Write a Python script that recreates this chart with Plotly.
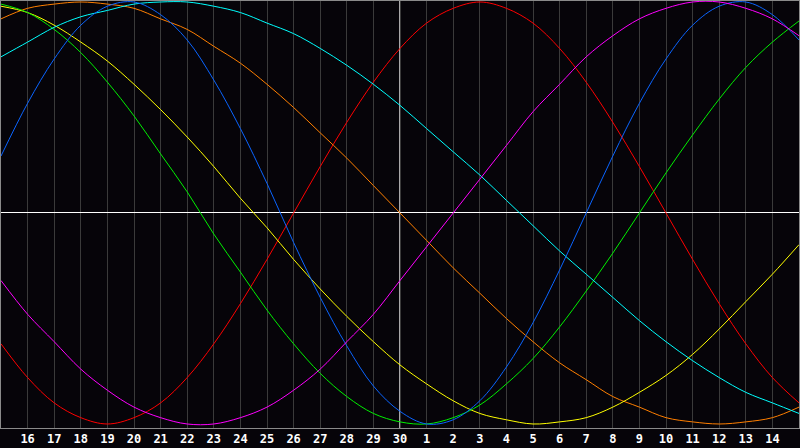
#!/usr/bin/env python

import plotly.graph_objects as go


# day labels from the 15th to the 15th of the next month (edges are off-label)
days = ['15', '16', '17', '18', '19', '20', '21', '22', '23', '24', '25', '26', '27', '28', '29', '30',
	'1', '2', '3', '4', '5', '6', '7', '8', '9', '10', '11', '12', '13', '14', '15']

# cycle values at each day
red = [-0.62, -0.78, -0.90, -0.97, -1.00, -0.97, -0.90, -0.78, -0.62, -0.43, -0.22, 0.00, 0.22, 0.43, 0.62, 0.78,
	0.90, 0.97, 1.00, 0.97, 0.90, 0.78, 0.62, 0.43, 0.22, 0.00, -0.22, -0.43, -0.62, -0.78, -0.90]
orange = [0.92, 0.97, 0.99, 1.00, 0.99, 0.97, 0.92, 0.87, 0.79, 0.71, 0.61, 0.50, 0.38, 0.26, 0.13, 0.00,
	-0.13, -0.26, -0.38, -0.50, -0.61, -0.71, -0.79, -0.87, -0.92, -0.97, -0.99, -1.00, -0.99, -0.97, -0.92]
yellow = [0.98, 0.95, 0.89, 0.81, 0.72, 0.61, 0.49, 0.36, 0.22, 0.07, -0.07, -0.22, -0.36, -0.49, -0.61, -0.72,
	-0.81, -0.89, -0.95, -0.98, -1.00, -0.99, -0.97, -0.92, -0.85, -0.77, -0.67, -0.55, -0.42, -0.29, -0.15]
green = [0.99, 0.95, 0.87, 0.76, 0.62, 0.46, 0.28, 0.10, -0.10, -0.28, -0.46, -0.62, -0.76, -0.87, -0.95, -0.99,
	-1.00, -0.97, -0.91, -0.81, -0.69, -0.54, -0.37, -0.19, 0.00, 0.19, 0.37, 0.54, 0.69, 0.81, 0.91]
cyan = [0.74, 0.81, 0.88, 0.93, 0.96, 0.99, 1.00, 1.00, 0.98, 0.95, 0.90, 0.85, 0.78, 0.70, 0.61, 0.51,
	0.40, 0.29, 0.18, 0.06, -0.06, -0.18, -0.29, -0.40, -0.51, -0.61, -0.70, -0.78, -0.85, -0.90, -0.95]
blue = [0.27, 0.52, 0.73, 0.89, 0.98, 1.00, 0.94, 0.82, 0.63, 0.40, 0.14, -0.14, -0.40, -0.63, -0.82, -0.94,
	-1.00, -0.98, -0.89, -0.73, -0.52, -0.27, 0.00, 0.27, 0.52, 0.73, 0.89, 0.98, 1.00, 0.94, 0.82]
magenta = [-0.32, -0.48, -0.61, -0.74, -0.84, -0.92, -0.97, -1.00, -1.00, -0.97, -0.92, -0.84, -0.74, -0.61, -0.48, -0.32,
	-0.16, 0.00, 0.16, 0.32, 0.48, 0.61, 0.74, 0.84, 0.92, 0.97, 1.00, 1.00, 0.97, 0.92, 0.84]

today = '30'

series = [
	(red, '#ff0000'),
	(orange, '#ff7f00'),
	(yellow, '#ffff00'),
	(green, '#00f000'),
	(cyan, '#00ffff'),
	(blue, '#0a64ff'),
	(magenta, '#ff00ff'),
]

x = list(range(-1, len(days) - 1))
ticks = x[1:-1]
labels = days[1:-1]
today_x = ticks[labels.index(today)]

fig = go.Figure()

for vals, col in series:
	fig.add_trace(go.Scatter(x=x, y=vals, mode='lines', line=dict(color=col, width=1, shape='spline'),
		hoverinfo='skip', showlegend=False))

fig.add_shape(type='line', xref='x', yref='paper', x0=today_x, x1=today_x, y0=0, y1=1,
	line=dict(color='white', width=1.3), layer='below')

fig.update_xaxes(range=[x[0], x[-1]], tickvals=ticks, ticktext=labels,
	showgrid=True, gridcolor='#3a3a3a', gridwidth=1, zeroline=False,
	showline=True, linecolor='#8a8a8a', linewidth=1, mirror=True,
	ticks='', tickfont=dict(family='DejaVu Sans Mono', size=12, color='white', weight='bold'))
fig.update_yaxes(range=[-1.019, 1.0047], showgrid=False, showticklabels=False,
	zeroline=True, zerolinecolor='white', zerolinewidth=1.3,
	showline=True, linecolor='#8a8a8a', linewidth=1, mirror=True)

fig.update_layout(width=800, height=448, margin=dict(l=1, r=1, t=1, b=20),
	paper_bgcolor='#060409', plot_bgcolor='#060409')

# page body margin would push the chart off the window
fig.write_html('out.html', config={'displayModeBar': False},
	post_script="document.body.style.margin='0';document.body.style.overflow='hidden';")
